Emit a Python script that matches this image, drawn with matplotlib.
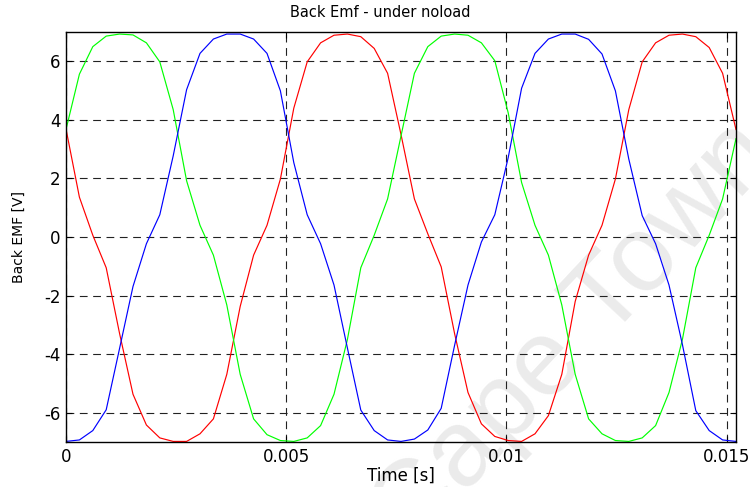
import numpy as np
import matplotlib
matplotlib.use("Agg")
import matplotlib.pyplot as plt

t_end = 0.01521
n_samples = 51

emf_green = [3.67, 5.56, 6.50, 6.86, 6.93, 6.90, 6.63, 5.98, 4.35, 1.92,
             0.40, -0.62, -2.32, -4.69, -6.21, -6.75, -6.95, -6.98, -6.86, -6.44,
             -5.37, -3.50, -1.05, 0.06, 1.30, 3.45, 5.59, 6.50, 6.86, 6.93,
             6.89, 6.63, 6.02, 4.24, 1.86, 0.40, -0.62, -2.32, -4.69, -6.21,
             -6.72, -6.95, -6.98, -6.86, -6.44, -5.31, -3.50, -1.05, 0.06, 1.30,
             3.36]

emf_red = [3.69, 1.36, 0.06, -1.05, -3.30, -5.37, -6.42, -6.86, -6.98, -6.98,
           -6.72, -6.21, -4.69, -2.37, -0.62, 0.40, 1.98, 4.40, 5.98, 6.63,
           6.89, 6.93, 6.84, 6.44, 5.59, 3.50, 1.30, 0.11, -1.02, -3.30,
           -5.31, -6.38, -6.81, -6.95, -6.98, -6.72, -6.10, -4.69, -2.20, -0.62,
           0.40, 1.98, 4.35, 5.98, 6.63, 6.89, 6.93, 6.84, 6.47, 5.59,
           3.67]

emf_blue = [-6.98, -6.93, -6.61, -5.90, -3.80, -1.69, -0.23, 0.76, 2.77, 5.03,
            6.27, 6.76, 6.93, 6.93, 6.76, 6.27, 4.99, 2.54, 0.76, -0.23,
            -1.64, -3.79, -5.91, -6.61, -6.93, -6.98, -6.90, -6.59, -5.85, -3.70,
            -1.64, -0.17, 0.76, 2.71, 5.08, 6.27, 6.76, 6.93, 6.93, 6.75,
            6.25, 4.99, 2.66, 0.73, -0.23, -1.64, -3.67, -5.93, -6.61, -6.93,
            -6.98]

xticks = [0, 0.005, 0.01, 0.015]
xtick_labels = ["0", "0.005", "0.01", "0.015"]
yticks = [-6, -4, -2, 0, 2, 4, 6]

plt.rcParams['axes.unicode_minus'] = False

t = np.linspace(0, t_end, n_samples)

fig = plt.figure(figsize=(7.5, 4.87), dpi=100)
ax = fig.add_axes([66/750, 45/487, 670/750, 410/487])
ax.set_facecolor('none')

# faint watermark behind everything
fig.text(575/750, 1 - 335/487, "Cape Town", family="Liberation Sans", fontsize=78,
         color="#ebebeb", rotation=47, rotation_mode="anchor",
         ha="center", va="center", zorder=-1)

ax.plot(t, emf_red, color="#ff0000", lw=0.85)
ax.plot(t, emf_green, color="#00ff00", lw=0.85)
ax.plot(t, emf_blue, color="#0000ff", lw=0.85)

ax.set_xlim(0, t_end)
ax.set_ylim(-7, 7)
ax.set_xticks(xticks, xtick_labels)
ax.set_yticks(yticks)
ax.grid(True, color="#222222", lw=0.8, linestyle=(0, (7, 5)))
ax.tick_params(direction="in", top=True, right=True, length=4, labelsize=12, pad=4)
for sp in ax.spines.values():
    sp.set_linewidth(1.0)

ax.set_title("Back Emf - under noload", fontsize=10.5, pad=11, x=(380 - 66) / 670)
ax.set_xlabel("Time [s]", fontsize=12, labelpad=1)
ax.set_ylabel("Back EMF [V]", fontsize=10, labelpad=13)

fig.savefig("out.png", dpi=100)
